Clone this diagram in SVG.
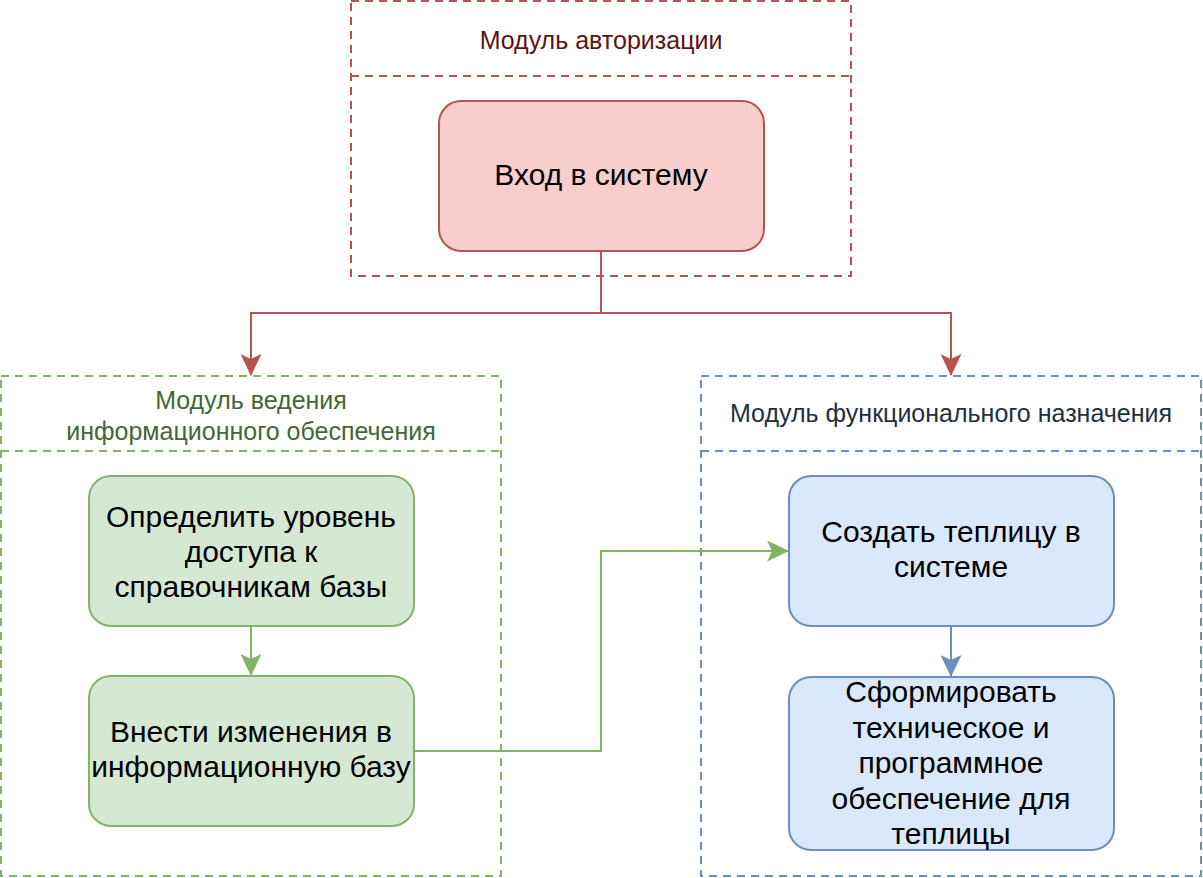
<svg xmlns="http://www.w3.org/2000/svg" width="1203" height="878" viewBox="0 0 1203 878">
<defs>
<style>
.cont{fill:none;stroke-width:2;stroke-dasharray:8 6}
.red{stroke:#b85450}
.green{stroke:#82b366}
.blue{stroke:#6c8ebf}
.ttl{font-family:"Liberation Sans",Arial,sans-serif;font-size:25px;text-anchor:middle}
.lbl{font-family:"Liberation Sans",Arial,sans-serif;font-size:30px;text-anchor:middle;fill:#000}
.conn{fill:none;stroke-width:2}
</style>
<marker id="ar" viewBox="0 0 22 21" refX="21" refY="10.5" markerWidth="22" markerHeight="21" markerUnits="userSpaceOnUse" orient="auto"><path d="M0,0 L22,10.5 L0,21 L5,10.5 Z" fill="#b85450"/></marker>
<marker id="ag" viewBox="0 0 22 21" refX="21" refY="10.5" markerWidth="22" markerHeight="21" markerUnits="userSpaceOnUse" orient="auto"><path d="M0,0 L22,10.5 L0,21 L5,10.5 Z" fill="#82b366"/></marker>
<marker id="ab" viewBox="0 0 22 21" refX="21" refY="10.5" markerWidth="22" markerHeight="21" markerUnits="userSpaceOnUse" orient="auto"><path d="M0,0 L22,10.5 L0,21 L5,10.5 Z" fill="#6c8ebf"/></marker>
</defs>
<rect width="1203" height="878" fill="#fff"/>
<g id="auth-module">
<rect class="cont red" x="351" y="1" width="500" height="275"/>
<line class="cont red" x1="351" y1="76" x2="851" y2="76"/>
<text class="ttl" x="601" y="49" fill="#5c1414">Модуль авторизации</text>
</g>
<g id="login">
<rect x="439" y="101" width="325" height="150" rx="22" fill="#f8cecc" stroke="#b85450" stroke-width="2"/>
<text class="lbl" x="601" y="185">Вход в систему</text>
</g>
<g id="info-module">
<rect class="cont green" x="1" y="376" width="500" height="500"/>
<line class="cont green" x1="1" y1="451" x2="501" y2="451"/>
<text class="ttl" x="251" y="409" fill="#456636">Модуль ведения</text>
<text class="ttl" x="251" y="440" fill="#456636">информационного обеспечения</text>
</g>
<g id="access">
<rect x="89" y="476" width="325" height="150" rx="22" fill="#d5e8d4" stroke="#82b366" stroke-width="2"/>
<text class="lbl" x="251" y="527">Определить уровень</text>
<text class="lbl" x="251" y="562">доступа к</text>
<text class="lbl" x="251" y="597">справочникам базы</text>
</g>
<g id="modify">
<rect x="89" y="676" width="325" height="150" rx="22" fill="#d5e8d4" stroke="#82b366" stroke-width="2"/>
<text class="lbl" x="251" y="742">Внести изменения в</text>
<text class="lbl" x="251" y="777">информационную базу</text>
</g>
<g id="func-module">
<rect class="cont blue" x="701" y="376" width="500" height="500"/>
<line class="cont blue" x1="701" y1="451" x2="1201" y2="451"/>
<text class="ttl" x="951" y="422" fill="#232f3e">Модуль функционального назначения</text>
</g>
<g id="greenhouse">
<rect x="789" y="476" width="325" height="150" rx="22" fill="#dae8fc" stroke="#6c8ebf" stroke-width="2"/>
<text class="lbl" x="951" y="542">Создать теплицу в</text>
<text class="lbl" x="951" y="577">системе</text>
</g>
<g id="software">
<rect x="789" y="677" width="325" height="173" rx="22" fill="#dae8fc" stroke="#6c8ebf" stroke-width="2"/>
<text class="lbl" x="951" y="702">Сформировать</text>
<text class="lbl" x="951" y="738">техническое и</text>
<text class="lbl" x="951" y="773">программное</text>
<text class="lbl" x="951" y="809">обеспечение для</text>
<text class="lbl" x="951" y="844">теплицы</text>
</g>
<g id="connectors">
<path class="conn red" d="M601,251 V313 H251 V375" marker-end="url(#ar)"/>
<path class="conn red" d="M601,313 H951 V375" marker-end="url(#ar)"/>
<path class="conn green" d="M251,626 V675" marker-end="url(#ag)"/>
<path class="conn green" d="M414,751 H601 V551 H788" marker-end="url(#ag)"/>
<path class="conn blue" d="M951,626 V676" marker-end="url(#ab)"/>
</g>
</svg>
